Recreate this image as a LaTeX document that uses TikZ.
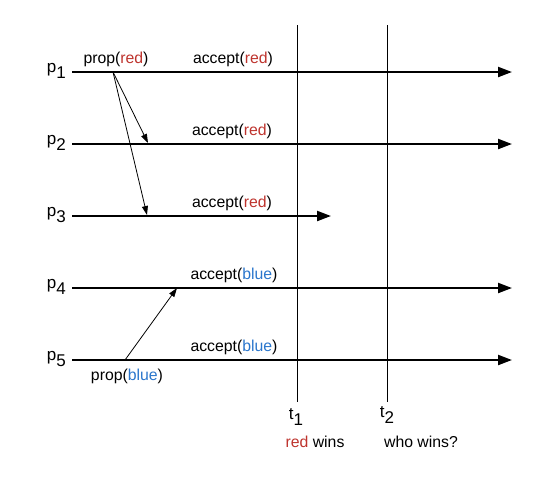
\documentclass[tikz,border=0pt]{standalone}
\usepackage{fontspec}
\setmainfont{Liberation Sans}
\usetikzlibrary{arrows.meta}
\definecolor{redval}{RGB}{190,52,46}
\definecolor{blueval}{RGB}{42,118,204}
\newcommand{\red}{\textcolor{redval}{red}}
\newcommand{\blue}{\textcolor{blueval}{blue}}

\begin{document}
\begin{tikzpicture}[x=1pt, y=-1pt]

% Stilusok
\tikzstyle{proc} = [anchor=base east, inner sep=0pt, font=\fontsize{17}{20}\selectfont]
\tikzstyle{msglabel} = [anchor=base, inner sep=0pt, font=\fontsize{15.8}{19}\selectfont]
\tikzstyle{timeline} = [line width=2.2pt, -{Triangle[length=14pt, width=10pt]}]
\tikzstyle{message} = [line width=0.8pt, -{Triangle[length=9pt, width=6pt]}]
\tikzstyle{instant} = [line width=0.9pt]

\useasboundingbox (0,0) rectangle (556,483);

% Folyamatok
\node (p1) [proc] at (66,72) {p\raisebox{-6pt}{1}};
\node (p2) [proc] at (66,144) {p\raisebox{-6pt}{2}};
\node (p3) [proc] at (66,216) {p\raisebox{-6pt}{3}};
\node (p4) [proc] at (66,288) {p\raisebox{-6pt}{4}};
\node (p5) [proc] at (66,360) {p\raisebox{-6pt}{5}};

\coordinate (s1) at (72,72);   \coordinate (e1) at (512,72);
\coordinate (s2) at (72,144);  \coordinate (e2) at (512,144);
\coordinate (s3) at (72,216);  \coordinate (e3) at (331,216);
\coordinate (s4) at (72,288);  \coordinate (e4) at (512,288);
\coordinate (s5) at (72,360);  \coordinate (e5) at (512,360);

\draw [timeline] (s1) -- (e1);
\draw [timeline] (s2) -- (e2);
\draw [timeline] (s3) -- (e3);
\draw [timeline] (s4) -- (e4);
\draw [timeline] (s5) -- (e5);

% Idopontok
\coordinate (t1top) at (297,25);  \coordinate (t1bot) at (297,402);
\coordinate (t2top) at (387,25);  \coordinate (t2bot) at (387,402);
\draw [instant] (t1top) -- (t1bot);
\draw [instant] (t2top) -- (t2bot);

\node (t1) [proc, anchor=base] at (296,419) {t\raisebox{-6pt}{1}};
\node (t2) [proc, anchor=base] at (387,417) {t\raisebox{-6pt}{2}};
\node (t1res) [msglabel] at (315,447) {\red{} wins};
\node (t2res) [msglabel] at (421,447) {who wins?};

% Uzenetek
\node (prop1) [msglabel] at (116,63) {prop(\red)};
\node (prop5) [msglabel] at (127,380) {prop(\blue)};
\node (acc1) [msglabel] at (233,63) {accept(\red)};
\node (acc2) [msglabel] at (232,135) {accept(\red)};
\node (acc3) [msglabel] at (232,207) {accept(\red)};
\node (acc4) [msglabel] at (234,279) {accept(\blue)};
\node (acc5) [msglabel] at (234,351) {accept(\blue)};

\coordinate (m1) at (113,72);
\coordinate (m2) at (148,143);
\coordinate (m3) at (147,215);
\coordinate (m5) at (125,360);
\coordinate (m4) at (177,288);

\draw [message] (m1) -- (m2);
\draw [message] (m1) -- (m3);
\draw [message] (m5) -- (m4);
\end{tikzpicture}
\end{document}
